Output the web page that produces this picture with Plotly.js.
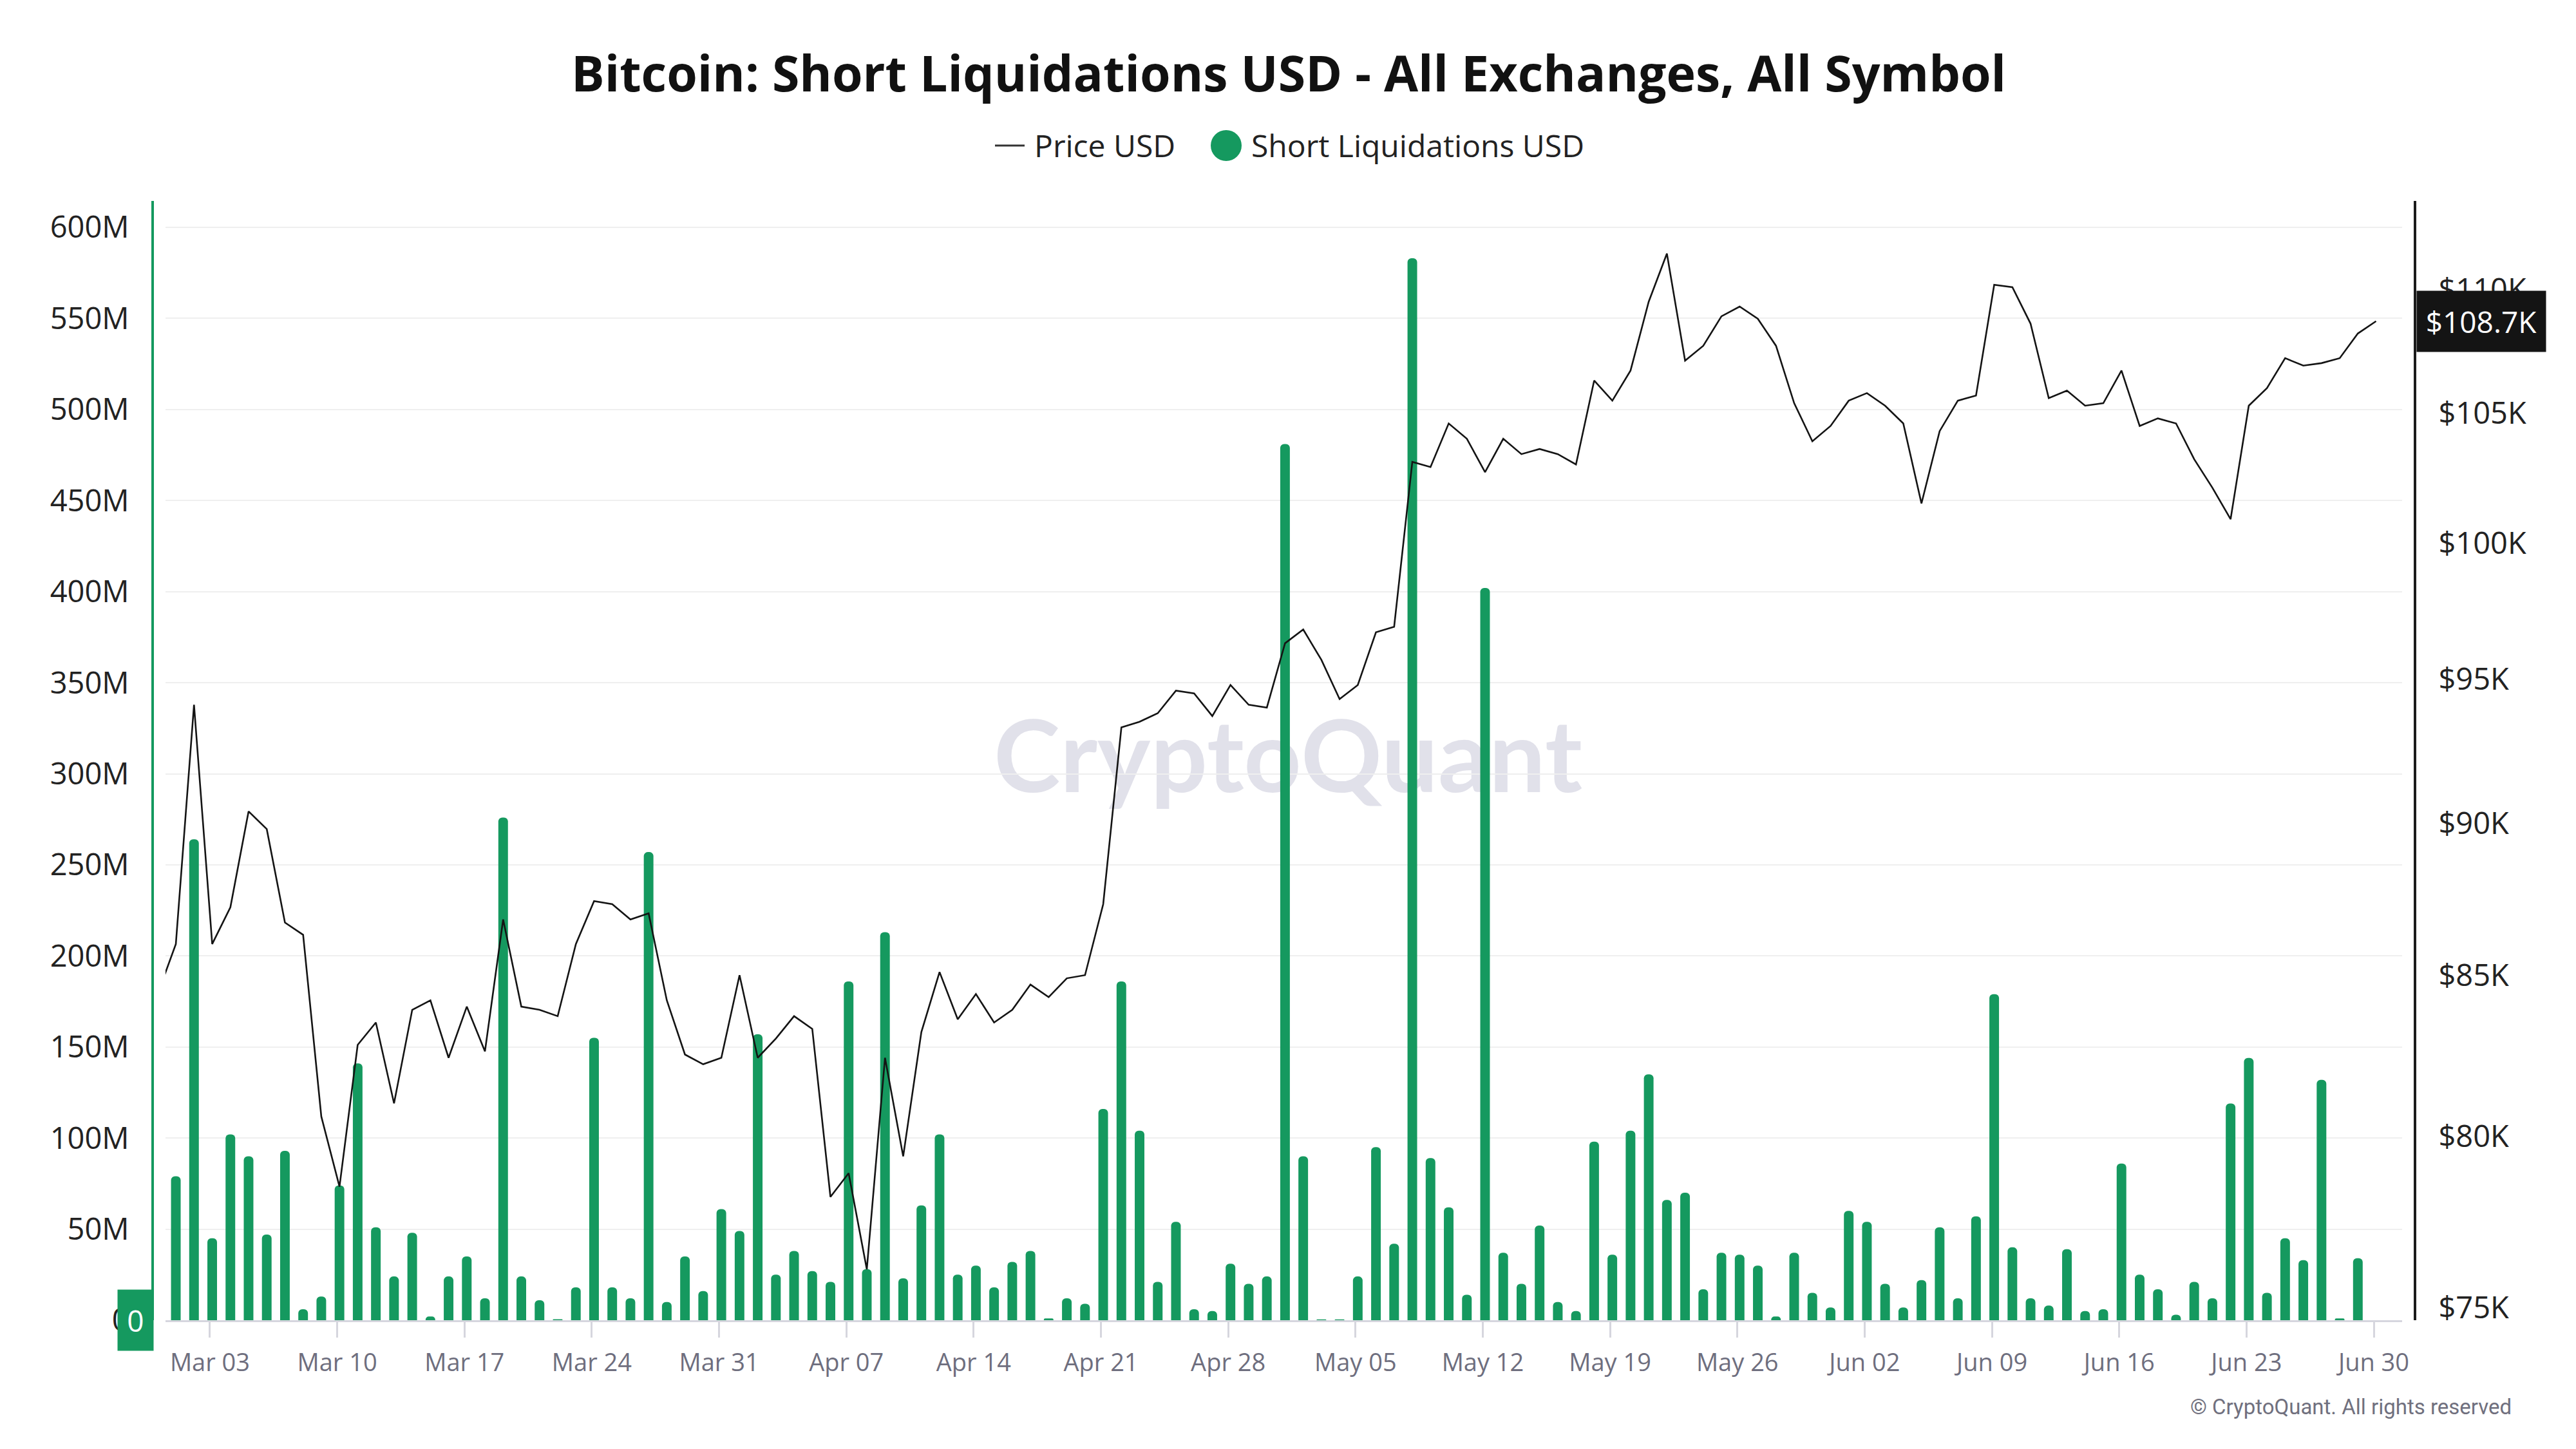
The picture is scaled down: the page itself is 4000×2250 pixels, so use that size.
<!DOCTYPE html>
<html>
<head>
<meta charset="utf-8">
<script src="https://cdn.plot.ly/plotly-3.0.1.min.js"></script>
<style>
html, body { margin: 0; padding: 0; background: #ffffff; }
#chart { width: 4000px; height: 2250px; }
</style>
</head>
<body>
<div id="chart"></div>
<script>
// ---------- DATA ----------
const liqStart = '2025-03-01';   // first bar day
const priceStart = '2025-02-28'; // first price day (partly clipped at the left edge)

// Short liquidations, millions of USD, Mar 01 .. Jun 30
const shortLiqM = [
  // Mar
  79, 264, 45, 102, 90, 47, 93, 6, 13, 74, 141, 51, 24, 48, 2, 24, 35, 12, 276, 24, 11, 0.5, 18, 155, 18, 12, 257, 10, 35, 16, 61,
  // Apr
  49, 157, 25, 38, 27, 21, 186, 28, 213, 23, 63, 102, 25, 30, 18, 32, 38, 1, 12, 9, 116, 186, 104, 21, 54, 6, 5, 31, 20, 24,
  // May
  481, 90, 0.4, 0.4, 24, 95, 42, 583, 89, 62, 14, 402, 37, 20, 52, 10, 5, 98, 36, 104, 135, 66, 70, 17, 37, 36, 30, 2, 37, 15, 7,
  // Jun
  60, 54, 20, 7, 22, 51, 12, 57, 179, 40, 12, 8, 39, 5, 6, 86, 25, 17, 3, 21, 12, 119, 144, 15, 45, 33, 132, 1, 34, 0
];

// BTC price, thousands of USD, Feb 28 .. Jun 30
const priceK = [
  84.4,
  // Mar
  86.0, 94.1, 86.0, 87.2, 90.4, 89.8, 86.7, 86.3, 80.6, 78.5, 82.8, 83.5, 81.0, 83.9, 84.2, 82.4, 84.0, 82.6, 86.8, 84.0, 83.9, 83.7, 86.0, 87.4, 87.3, 86.8, 87.0, 84.2, 82.5, 82.2, 82.4,
  // Apr
  85.0, 82.4, 83.0, 83.7, 83.3, 78.2, 78.9, 76.1, 82.4, 79.4, 83.2, 85.1, 83.6, 84.4, 83.5, 83.9, 84.7, 84.3, 84.9, 85.0, 87.3, 93.3, 93.5, 93.8, 94.6, 94.5, 93.7, 94.8, 94.1, 94.0,
  // May
  96.3, 96.8, 95.7, 94.3, 94.8, 96.7, 96.9, 103.1, 102.9, 104.6, 104.0, 102.7, 104.0, 103.4, 103.6, 103.4, 103.0, 106.3, 105.5, 106.7, 109.5, 111.5, 107.1, 107.7, 108.9, 109.3, 108.8, 107.7, 105.4, 103.9, 104.5,
  // Jun
  105.5, 105.8, 105.3, 104.6, 101.5, 104.3, 105.5, 105.7, 110.2, 110.1, 108.6, 105.6, 105.9, 105.3, 105.4, 106.7, 104.5, 104.8, 104.6, 103.2, 102.1, 100.9, 105.3, 106.0, 107.2, 106.9, 107.0, 107.2, 108.2, 108.7
];

const rightTickVals = [75000, 80000, 85000, 90000, 95000, 100000, 105000, 110000];
const rightTickText = ['$75K', '$80K', '$85K', '$90K', '$95K', '$100K', '$105K', '$110K'];

const titleText = 'Bitcoin: Short Liquidations USD - All Exchanges, All Symbol';
const priceName = 'Price USD';
const liqName = 'Short Liquidations USD';

// ---------- helpers ----------
function pad2(n) { return (n < 10 ? '0' : '') + n; }
function dayList(start, n) {
  const out = [];
  const t0 = Date.parse(start + 'T00:00:00Z');
  for (let i = 0; i < n; i++) {
    const d = new Date(t0 + i * 86400000);
    out.push(d.getUTCFullYear() + '-' + pad2(d.getUTCMonth() + 1) + '-' + pad2(d.getUTCDate()) + ' 03:00:00');
  }
  return out;
}

const liqDates = dayList(liqStart, shortLiqM.length);
const priceDates = dayList(priceStart, priceK.length);
const liqUSD = shortLiqM.map(v => v * 1e6);
const priceUSD = priceK.map(v => v * 1000);

const GREEN = '#15995f';

// plot geometry helpers (paper coordinates)
const W = 4000, H = 2250, ML = 237, MR = 250, MT = 312, MB = 200;
const PW = W - ML - MR, PH = H - MT - MB;
const px = X => (X - ML) / PW;
const py = Y => (H - MB - Y) / PH;

const lastPrice = priceUSD[priceUSD.length - 1];
const lastLiq = liqUSD[liqUSD.length - 1];

const traces = [
  {
    type: 'bar',
    name: liqName,
    x: liqDates,
    y: liqUSD,
    yaxis: 'y',
    width: 0.53 * 86400000,
    marker: { color: GREEN, cornerradius: '45%' },
    showlegend: false,
    hoverinfo: 'x+y'
  },
  {
    type: 'scatter',
    mode: 'lines',
    name: priceName,
    x: priceDates,
    y: priceUSD,
    yaxis: 'y2',
    line: { color: '#141414', width: 2.6 },
    showlegend: false,
    hoverinfo: 'x+y'
  }
];

const layout = {
  width: W,
  height: H,
  margin: { l: ML, r: MR, t: MT, b: MB, pad: 0 },
  paper_bgcolor: '#ffffff',
  plot_bgcolor: 'rgba(0,0,0,0)',
  showlegend: false,
  font: { family: 'Open Sans, Noto Sans, sans-serif', color: '#222222' },
  title: {
    text: titleText,
    font: { family: 'Open Sans, Noto Sans, sans-serif', size: 77, color: '#111111', weight: 700 },
    xref: 'container', x: 2001 / W, xanchor: 'center',
    yref: 'container', y: 1 - 115 / H, yanchor: 'middle'
  },
  xaxis: {
    type: 'date',
    domain: [px(257), px(3730)],
    range: ['2025-02-28 13:22:00', '2025-07-01 13:24:00'],
    tick0: '2025-03-03',
    dtick: 7 * 86400000,
    tickformat: '%b %d',
    ticks: 'outside',
    ticklen: 24,
    tickwidth: 3,
    tickcolor: '#d6d6de',
    showline: true,
    linecolor: '#d6d6de',
    linewidth: 3,
    showgrid: false,
    zeroline: false,
    tickfont: { family: 'Open Sans, sans-serif', size: 38, color: '#6e6e7e' },
    ticklabelstandoff: 6
  },
  yaxis: {
    range: [0, 614.5e6],
    dtick: 50e6,
    tickformat: '~s',
    anchor: 'free',
    position: 0,
    showline: true,
    linecolor: GREEN,
    linewidth: 4,
    showgrid: true,
    gridcolor: '#efefef',
    gridwidth: 2,
    zeroline: false,
    ticks: '',
    tickfont: { family: 'Open Sans, sans-serif', size: 47, color: '#222222' },
    ticklabelstandoff: 25,
    fixedrange: true
  },
  yaxis2: {
    type: 'log',
    range: [Math.log10(74656), Math.log10(113730)],
    overlaying: 'y',
    side: 'right',
    anchor: 'free',
    position: 1,
    tickmode: 'array',
    tickvals: rightTickVals,
    ticktext: rightTickText,
    showline: true,
    linecolor: '#1b1b1b',
    linewidth: 4,
    showgrid: false,
    zeroline: false,
    ticks: '',
    tickfont: { family: 'Open Sans, sans-serif', size: 47, color: '#222222' },
    ticklabelstandoff: 25,
    fixedrange: true
  },
  shapes: [
    // watermark, drawn beneath the data
    {
      type: 'rect', xref: 'paper', yref: 'paper', layer: 'below',
      x0: px(1500), x1: px(2500), y0: py(1267), y1: py(1067),
      line: { width: 0 }, fillcolor: 'rgba(0,0,0,0)',
      label: {
        text: 'CryptoQuant',
        textposition: 'middle center',
        font: { family: 'Lato, Open Sans, sans-serif', size: 156, color: '#e1e1ea', weight: 700 }
      }
    },
    // legend: price line swatch
    {
      type: 'line', xref: 'paper', yref: 'paper',
      xsizemode: 'pixel', xanchor: px(1568), x0: -23, x1: 23,
      ysizemode: 'pixel', yanchor: py(226), y0: 0, y1: 0,
      line: { color: '#333333', width: 3 }
    },
    // legend: liquidation dot
    {
      type: 'circle', xref: 'paper', yref: 'paper',
      xsizemode: 'pixel', xanchor: px(1904), x0: -24, x1: 24,
      ysizemode: 'pixel', yanchor: py(226), y0: -24, y1: 24,
      line: { width: 0 }, fillcolor: GREEN
    }
  ],
  annotations: [
    {
      xref: 'paper', yref: 'paper', x: px(1604), y: py(226),
      xanchor: 'left', yanchor: 'middle', showarrow: false,
      text: priceName,
      font: { family: 'Open Sans, sans-serif', size: 48, color: '#222222' }
    },
    {
      xref: 'paper', yref: 'paper', x: px(1941), y: py(226),
      xanchor: 'left', yanchor: 'middle', showarrow: false,
      text: liqName,
      font: { family: 'Open Sans, sans-serif', size: 48, color: '#222222' }
    },
    // current price label on the right axis
    {
      xref: 'paper', yref: 'y2', x: 1, y: Math.log10(lastPrice),
      xanchor: 'left', yanchor: 'middle', showarrow: false,
      xshift: 2,
      text: '$' + (lastPrice / 1000).toFixed(1) + 'K',
      font: { family: 'Open Sans, sans-serif', size: 46, color: '#ffffff' },
      bgcolor: '#141414', borderpad: 7, width: 186, height: 80, align: 'center'
    },
    // current liquidation label on the left axis
    {
      xref: 'paper', yref: 'y', x: 0, y: lastLiq,
      xanchor: 'right', yanchor: 'middle', showarrow: false,
      xshift: 2,
      text: String(Math.round(lastLiq / 1e6)),
      font: { family: 'Open Sans, sans-serif', size: 46, color: '#ffffff' },
      bgcolor: GREEN, borderpad: 7, width: 41, height: 80, align: 'center'
    },
    // copyright
    {
      xref: 'paper', yref: 'paper', x: px(3902), y: py(2184),
      xanchor: 'right', yanchor: 'middle', showarrow: false,
      text: '© CryptoQuant. All rights reserved',
      font: { family: 'Roboto, sans-serif', size: 33, color: '#70707e' }
    }
  ]
};

Plotly.newPlot('chart', traces, layout, { displayModeBar: false, staticPlot: true });
</script>
</body>
</html>
